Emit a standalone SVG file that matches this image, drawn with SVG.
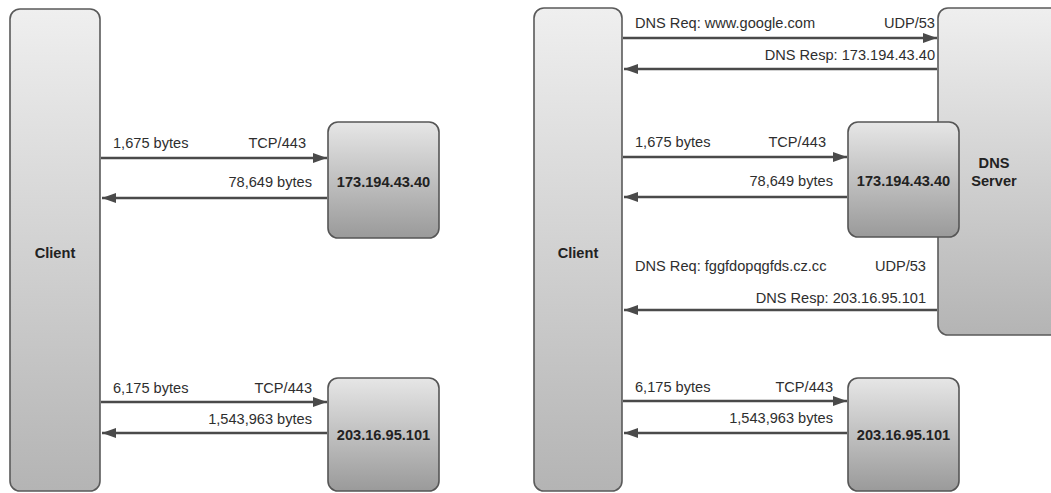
<svg xmlns="http://www.w3.org/2000/svg" width="1051" height="493" viewBox="0 0 1051 493">
<defs>
<linearGradient id="gTall" x1="0" y1="0" x2="0" y2="1">
<stop offset="0" stop-color="#efefef"/>
<stop offset="1" stop-color="#b4b4b4"/>
</linearGradient>
<linearGradient id="gBox" x1="0" y1="0" x2="0" y2="1">
<stop offset="0" stop-color="#e6e6e6"/>
<stop offset="1" stop-color="#9a9a9a"/>
</linearGradient>
<marker id="ah" markerUnits="userSpaceOnUse" markerWidth="15" markerHeight="11" refX="14" refY="5" orient="auto">
<path d="M0,0 L14,5 L0,10 z" fill="#4a4a4a"/>
</marker>
<style>
.tall{fill:url(#gTall);stroke:#5a5a5a;stroke-width:1.6}
.box{fill:url(#gBox);stroke:#555;stroke-width:1.6}
.lbl{font-family:"Liberation Sans",Arial,sans-serif;font-size:14.6px;fill:#2e2e2e}
.nt{font-family:"Liberation Sans",Arial,sans-serif;font-size:14.6px;font-weight:bold;fill:#222;text-anchor:middle}
.end{text-anchor:end}
.ln{stroke:#4a4a4a;stroke-width:2.6;fill:none;marker-end:url(#ah)}
</style>
</defs>
<rect width="1051" height="493" fill="#ffffff"/>

<g id="left-client"><rect class="tall" x="10" y="9" width="90" height="482" rx="10"/><text class="nt" x="55" y="258">Client</text></g>
<g id="left-server1"><rect class="box" x="328" y="122" width="111" height="116" rx="10"/><text class="nt" x="383.5" y="187">173.194.43.40</text></g>
<g id="left-server2"><rect class="box" x="328" y="378" width="111" height="113" rx="10"/><text class="nt" x="383.5" y="440">203.16.95.101</text></g>

<g id="right-client"><rect class="tall" x="534" y="8" width="88" height="483" rx="10"/><text class="nt" x="578" y="258">Client</text></g>
<g id="dns-server"><rect class="tall" x="938" y="8" width="130" height="327" rx="10"/><text class="nt" x="994" y="168">DNS</text><text class="nt" x="994" y="186">Server</text></g>
<g id="right-server1"><rect class="box" x="848" y="122" width="111" height="115" rx="10"/><text class="nt" x="903.5" y="186">173.194.43.40</text></g>
<g id="right-server2"><rect class="box" x="848" y="378" width="111" height="113" rx="10"/><text class="nt" x="903.5" y="440">203.16.95.101</text></g>

<g id="connectors">
<line class="ln" x1="101" y1="158" x2="327" y2="158"/>
<line class="ln" x1="327" y1="198" x2="102" y2="198"/>
<line class="ln" x1="101" y1="402" x2="327" y2="402"/>
<line class="ln" x1="327" y1="433" x2="102" y2="433"/>

<line class="ln" x1="623" y1="38" x2="937" y2="38"/>
<line class="ln" x1="937" y1="69" x2="624" y2="69"/>
<line class="ln" x1="623" y1="157" x2="847" y2="157"/>
<line class="ln" x1="847" y1="197" x2="624" y2="197"/>
<line class="ln" x1="937" y1="310" x2="624" y2="310"/>
<line class="ln" x1="623" y1="401" x2="847" y2="401"/>
<line class="ln" x1="847" y1="433" x2="624" y2="433"/>
</g>

<g id="labels">
<text class="lbl" x="113" y="148">1,675 bytes</text>
<text class="lbl end" x="306" y="148">TCP/443</text>
<text class="lbl end" x="312" y="187">78,649 bytes</text>
<text class="lbl" x="113" y="393">6,175 bytes</text>
<text class="lbl end" x="312" y="393">TCP/443</text>
<text class="lbl end" x="312" y="424">1,543,963 bytes</text>

<text class="lbl" x="635" y="28">DNS Req: www.google.com</text>
<text class="lbl end" x="935" y="28">UDP/53</text>
<text class="lbl end" x="935" y="60">DNS Resp: 173.194.43.40</text>
<text class="lbl" x="635" y="147">1,675 bytes</text>
<text class="lbl end" x="826" y="147">TCP/443</text>
<text class="lbl end" x="833" y="186">78,649 bytes</text>
<text class="lbl" x="635" y="271">DNS Req: fggfdopqgfds.cz.cc</text>
<text class="lbl end" x="926" y="271">UDP/53</text>
<text class="lbl end" x="926" y="303">DNS Resp: 203.16.95.101</text>
<text class="lbl" x="635" y="392">6,175 bytes</text>
<text class="lbl end" x="833" y="392">TCP/443</text>
<text class="lbl end" x="833" y="423">1,543,963 bytes</text>
</g>
</svg>
